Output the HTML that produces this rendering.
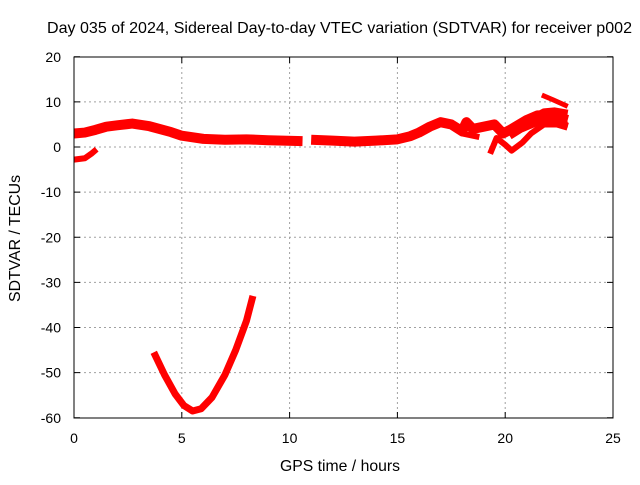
<!DOCTYPE html>
<html><head><meta charset="utf-8"><style>
body{margin:0;background:#fff}
text{font-family:"Liberation Sans",sans-serif;font-size:14px;fill:#000}
.big{font-size:16px}
</style></head><body>
<svg id="chart" width="640" height="480" xmlns="http://www.w3.org/2000/svg">
<g id="grid"></g>
<g id="series"></g>
<rect x="74" y="57" width="539" height="361" fill="none" stroke="#000" stroke-width="1"/>
<g id="ticks"></g>
<text class="big" x="47" y="33" textLength="585" lengthAdjust="spacingAndGlyphs">Day 035 of 2024, Sidereal Day-to-day VTEC variation (SDTVAR) for receiver p002</text>
<text class="big" x="280" y="471" textLength="120" lengthAdjust="spacingAndGlyphs">GPS time / hours</text>
<text class="big" transform="translate(20,302) rotate(-90)" textLength="127" lengthAdjust="spacingAndGlyphs">SDTVAR / TECUs</text>
</svg>
<script>
const xTicks=[0,5,10,15,20,25];
const yTicks=[20,10,0,-10,-20,-30,-40,-50,-60];
const segMainH=[0,0.5,1,1.5,2,2.7,3.5,4.5,5,6,7,8,9,10.6];
const segMainV=[3,3.2,3.8,4.5,4.8,5.2,4.6,3.3,2.5,1.8,1.6,1.7,1.5,1.3];
const segMidH=[11,12,13,14,15,15.6,16,16.5,17,17.5,18,18.2,18.5,19,19.5,19.9,20.3,21,21.5,22,22.5,22.9];
const segMidV=[1.6,1.4,1.2,1.4,1.7,2.4,3.2,4.5,5.5,5,3.5,5.5,4,4.5,5,3,4,6,7,7,6.5,6];
const segBranchH=[17.6,18,18.5,18.8];
const segBranchV=[4.5,3,2.5,2.2];
const segLowH=[19.3,19.6,20,20.3,20.8,21.2,21.8,22.5,22.9];
const segLowV=[-1.5,2,0.5,-0.8,1,3,5,5,5];
const segLateH=[20.2,20.7,21.2,21.7,22.2,22.9];
const segLateV=[2.5,4,5,6,5.5,4.5];
const segLate2H=[20.8,21.3,21.8,22.3,22.9];
const segLate2V=[5,6.5,7.8,8,7.5];
const segUpH=[21.7,22.2,22.9];
const segUpV=[11.5,10.5,9];
const segEarlyH=[0,0.5,0.8,1.05];
const segEarlyV=[-2.8,-2.5,-1.5,-0.5];
const segParaH=[3.7,4.2,4.7,5.1,5.5,5.9,6.4,7,7.5,8,8.3];
const segParaV=[-45.5,-50.5,-54.8,-57.3,-58.5,-58,-55.5,-50.5,-45,-38.5,-33];
const X=h=>74+h*539/25, Y=v=>147-v*361/80;
const NS="http://www.w3.org/2000/svg";
const grid=document.getElementById('grid'),ticks=document.getElementById('ticks'),series=document.getElementById('series');
function mk(tag,attrs,parent){const e=document.createElementNS(NS,tag);for(const k in attrs)e.setAttribute(k,attrs[k]);parent.appendChild(e);return e;}
xTicks.forEach(t=>{const x=X(t);
 if(t>0&&t<25){const g=mk('line',{x1:x,x2:x,y1:57,y2:418,stroke:'#a0a0a0','stroke-dasharray':'2,3'},grid);
 
 }
 mk('line',{x1:x,x2:x,y1:418,y2:412,stroke:'#000'},ticks);mk('line',{x1:x,x2:x,y1:57,y2:63,stroke:'#000'},ticks);
 const l=mk('text',{x:x,y:443,'text-anchor':'middle'},ticks);l.textContent=t;
 
 });
yTicks.forEach(t=>{const y=Y(t);
 if(t>-60&&t<20){const g=mk('line',{x1:74,x2:613,y1:y,y2:y,stroke:'#a0a0a0','stroke-dasharray':'2,3'},grid);
 
 }
 mk('line',{x1:74,x2:80,y1:y,y2:y,stroke:'#000'},ticks);mk('line',{x1:613,x2:607,y1:y,y2:y,stroke:'#000'},ticks);
 const l=mk('text',{x:61,y:y+5,'text-anchor':'end'},ticks);l.textContent=t;
 
 });
function seg(H,V,w,name){const p=mk('polyline',{points:H.map((h,i)=>X(h)+','+Y(V[i])).join(' '),fill:'none',stroke:'#f00','stroke-width':w,'stroke-linejoin':'round','stroke-linecap':'butt'},series);
 
 }
seg(segMainH,segMainV,10,'series-main-early');
seg(segMidH,segMidV,10,'series-main-late');
seg(segBranchH,segBranchV,6,'series-branch');
seg(segLowH,segLowV,6,'series-low-branch');
seg(segLateH,segLateV,8,'series-late-band');
seg(segLate2H,segLate2V,7,'series-late-band-upper');
seg(segUpH,segUpV,5,'series-upper-branch');
seg(segEarlyH,segEarlyV,6,'series-early-low');
seg(segParaH,segParaV,7,'series-dip');
</script>
</body></html>
